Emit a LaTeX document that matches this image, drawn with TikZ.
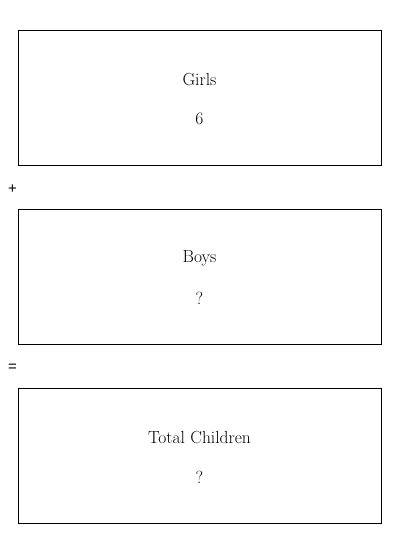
\documentclass[tikz,border=0pt]{standalone}
\usepackage{fontspec}
\newfontfamily\opfont{Liberation Sans}
\begin{document}
\begin{tikzpicture}[x=1pt,y=-1pt,
  box/.style={draw,line width=0.8pt,minimum width=363pt,minimum height=135pt,anchor=north west,inner sep=0pt},
  lbl/.style={font=\fontsize{17.5}{20}\selectfont},
  op/.style={font=\opfont\fontsize{15}{17}\selectfont}]
\useasboundingbox (0,0) rectangle (400,534);
\node[box] (g) at (18,30) {};
\node[box] (b) at (18,209) {};
\node[box] (t) at (18,388) {};
\node[lbl] (gl) at (199.5,79.5) {Girls};
\node[lbl] (gv) at (199.5,119) {6};
\node[lbl] (bl) at (199.5,258.5) {Boys};
\node[lbl] (bv) at (199.5,298) {?};
\node[lbl] (tl) at (199.5,437.5) {Total Children};
\node[lbl] (tv) at (199.5,477) {?};
\node[op] (plus) at (12.5,189) {+};
\node[op] (eq) at (12.5,368) {=};
\end{tikzpicture}
\end{document}
